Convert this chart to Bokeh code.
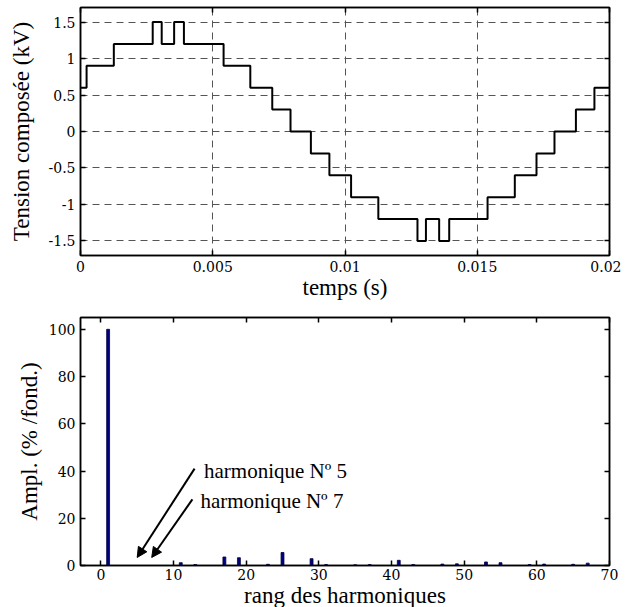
from bokeh.plotting import figure
from bokeh.layouts import column
from bokeh.models import (LinearAxis, FixedTicker, CustomJSTickFormatter, Range1d,
                          Arrow, NormalHead, Label)
from bokeh.embed import file_html
from bokeh.resources import INLINE

# ---------------- data: line-to-line voltage (kV) ----------------
t_switch = [0.0, 0.00023, 0.00126, 0.00273, 0.00307, 0.00354, 0.00391, 0.00541,
            0.00642, 0.00725, 0.00794, 0.00871, 0.00941, 0.01023, 0.01126, 0.01274,
            0.01306, 0.01356, 0.01394, 0.01539, 0.01642, 0.01724, 0.01792, 0.01873,
            0.01943, 0.02]
v_level = [0.6, 0.9, 1.2, 1.5, 1.2, 1.5, 1.2, 0.9, 0.6, 0.3, 0.0, -0.3, -0.6,
           -0.9, -1.2, -1.5, -1.2, -1.5, -1.2, -0.9, -0.6, -0.3, 0.0, 0.3, 0.6, 0.6]
time_ticks = [0, 0.005, 0.01, 0.015, 0.02]
volt_ticks = [-1.5, -1, -0.5, 0, 0.5, 1, 1.5]

# ---------------- data: harmonic spectrum (% of fundamental) ----------------
harm_rank = [1, 11, 13, 17, 19, 23, 25, 29, 31, 35, 37, 41, 43, 47, 49, 53, 55,
             59, 61, 65, 67]
harm_ampl = [100, 1.2, 0.4, 3.6, 3.3, 0.5, 5.5, 2.9, 0.4, 0.3, 0.4, 2.2, 0.4,
             0.6, 0.7, 1.5, 1.2, 0.4, 0.6, 0.5, 1.0]
rank_ticks = [0, 10, 20, 30, 40, 50, 60, 70]
ampl_ticks = [0, 20, 40, 60, 80, 100]

note_texts = ["harmonique N\u00ba 5", "harmonique N\u00ba 7"]
note_x = [14.2, 13.7]
note_y = [40.0, 27.5]
arrow_x0 = [12.9, 12.6]
arrow_y0 = [41.0, 28.0]
arrow_x1 = [5, 7]
arrow_y1 = [3.4, 3.4]

LABEL_FONT = "Liberation Serif"
TICK_FONT = "DejaVu Serif"

fmt = CustomJSTickFormatter(code="return tick.toString();")


def style_axis(ax, ticks, show):
    ax.ticker = FixedTicker(ticks=ticks)
    ax.axis_line_color = "black"
    ax.axis_line_width = 1.5
    ax.major_tick_in = 5
    ax.major_tick_out = 0
    ax.major_tick_line_color = "black"
    ax.major_tick_line_width = 1.5
    ax.minor_tick_line_color = None
    ax.major_label_text_font = TICK_FONT
    ax.axis_label_text_font = LABEL_FONT
    ax.axis_label_text_font_style = "normal"
    ax.axis_label_text_font_size = "23px"
    ax.axis_label_text_color = "black"
    if show:
        ax.formatter = fmt
        ax.major_label_text_color = "black"
        ax.major_label_text_font_size = "14px"
        ax.major_label_standoff = 5
    else:
        ax.major_label_text_color = None
        ax.major_label_text_alpha = 0
        ax.major_label_text_font_size = "0px"
        ax.major_label_standoff = 0


def make_fig(xr, yr, top_border):
    p = figure(frame_width=529, frame_height=248, x_range=xr, y_range=yr,
               output_backend="svg", toolbar_location=None,
               min_border_left=80, min_border_right=12,
               min_border_top=top_border, min_border_bottom=0,
               background_fill_color="white", border_fill_color="white")
    p.outline_line_color = "black"
    p.outline_line_width = 1.5
    return p


# ---------------- top figure ----------------
p1 = make_fig(Range1d(0, 0.02), Range1d(-1.7, 1.7), 7)
style_axis(p1.xaxis[0], time_ticks, True)
style_axis(p1.yaxis[0], volt_ticks, True)
p1.xaxis[0].axis_label = "temps (s)"
p1.xaxis[0].axis_label_standoff = 0
p1.yaxis[0].axis_label = "Tension compos\u00e9e (kV)"
p1.yaxis[0].axis_label_standoff = 12
ax_top = LinearAxis()
ax_right = LinearAxis()
style_axis(ax_top, time_ticks, False)
style_axis(ax_right, volt_ticks, False)
p1.add_layout(ax_top, "above")
p1.add_layout(ax_right, "right")
for g in (p1.xgrid[0], p1.ygrid[0]):
    g.grid_line_color = "#555555"
    g.grid_line_dash = "7 5"
    g.grid_line_width = 1
p1.xgrid[0].ticker = FixedTicker(ticks=time_ticks)
p1.ygrid[0].ticker = FixedTicker(ticks=volt_ticks)
p1.step(t_switch, v_level, mode="after", line_color="black", line_width=2)

# ---------------- bottom figure ----------------
p2 = make_fig(Range1d(-2.8, 70), Range1d(0, 105), 15)
style_axis(p2.xaxis[0], rank_ticks, True)
style_axis(p2.yaxis[0], ampl_ticks, True)
p2.xaxis[0].axis_label = "rang des harmoniques"
p2.xaxis[0].axis_label_standoff = 0
p2.xaxis[0].major_label_standoff = 3
p2.yaxis[0].axis_label = "Ampl. (% /fond.)"
p2.yaxis[0].axis_label_standoff = 4
ax_top2 = LinearAxis()
ax_right2 = LinearAxis()
style_axis(ax_top2, rank_ticks, False)
style_axis(ax_right2, ampl_ticks, False)
p2.add_layout(ax_top2, "above")
p2.add_layout(ax_right2, "right")
p2.xgrid[0].grid_line_color = None
p2.ygrid[0].grid_line_color = None
p2.vbar(x=harm_rank, top=harm_ampl, width=0.4, fill_color="#000080",
        line_color="#000040", line_width=0.8)

for i in range(len(note_texts)):
    p2.add_layout(Arrow(end=NormalHead(size=10, fill_color="black", line_color="black"),
                        x_start=arrow_x0[i], y_start=arrow_y0[i],
                        x_end=arrow_x1[i], y_end=arrow_y1[i],
                        line_color="black", line_width=2))
    p2.add_layout(Label(x=note_x[i], y=note_y[i], text=note_texts[i],
                        text_font=LABEL_FONT, text_font_size="21px",
                        text_color="black", text_baseline="middle",
                        text_align="left"))

layout = column(p1, p2)
open("out.html", "w").write(file_html(layout, INLINE))
